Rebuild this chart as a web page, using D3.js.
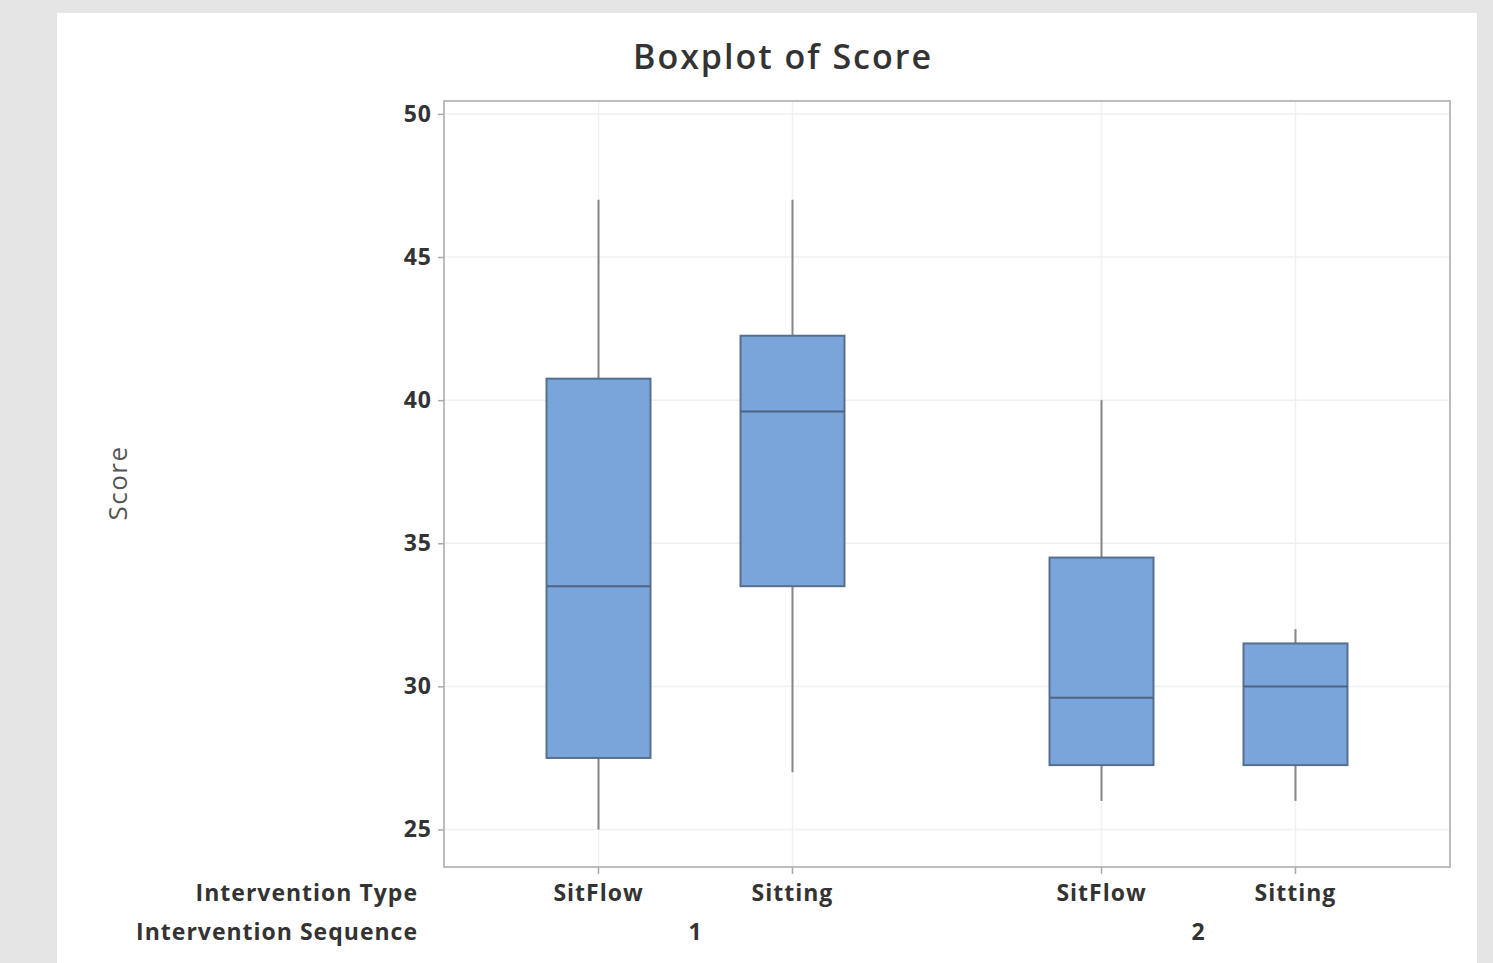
<!DOCTYPE html>
<html><head><meta charset="utf-8">
<script src="https://cdn.jsdelivr.net/npm/d3@7"></script>
<style>html,body{margin:0;padding:0;background:#e5e5e5;}svg{display:block;}</style>
</head><body>
<svg id="c" width="1493" height="963"></svg>
<script>
const sequences = ["1", "2"];
const types = ["SitFlow", "Sitting"];
const boxKeys = [["1","SitFlow"],["1","Sitting"],["2","SitFlow"],["2","Sitting"]];
const whiskerLow  = [25, 27, 26, 26];
const q1Values    = [27.5, 33.5, 27.25, 27.25];
const medians     = [33.5, 39.6, 29.6, 30];
const q3Values    = [40.75, 42.25, 34.5, 31.5];
const whiskerHigh = [47, 47, 40, 32];
const yTicks = [25, 30, 35, 40, 45, 50];

const svg = d3.select("#c");
svg.append("rect").attr("x",57).attr("y",13).attr("width",1420).attr("height",950).attr("fill","#fff");

const L=444, R=1450, T=101, B=867;
const y = d3.scaleLinear().domain([23.69, 50.45]).range([B, T]);
const xOuter = d3.scaleBand().domain(sequences).range([L, R]).paddingInner(0).paddingOuter(0);
const xInner = d3.scaleBand().domain(types).range([0, xOuter.bandwidth()]).paddingInner(0).paddingOuter(0.2965);
const cx = (s,t) => xOuter(s) + xInner(t) + xInner.bandwidth()/2;
const bw = xInner.step()*0.536;

const font = "'Open Sans', 'Noto Sans', sans-serif";
const lblSize = 23, lblWeight = 700, lblSpacing = 1, lblColor = "#333";
function lbl(sel){
  return sel.attr("font-family",font).attr("font-size",lblSize).attr("font-weight",lblWeight)
    .attr("letter-spacing",lblSpacing).attr("fill",lblColor);
}

// gridlines
const g = svg.append("g");
g.selectAll(".hg").data(yTicks).join("line")
  .attr("x1",L).attr("x2",R).attr("y1",d=>y(d)).attr("y2",d=>y(d))
  .attr("stroke","#f0f0f0").attr("stroke-width",1.5);
g.selectAll(".vg").data(boxKeys).join("line")
  .attr("x1",d=>cx(d[0],d[1])).attr("x2",d=>cx(d[0],d[1])).attr("y1",T).attr("y2",B)
  .attr("stroke","#f0f0f0").attr("stroke-width",1.5);

// frame
svg.append("rect").attr("x",L).attr("y",T).attr("width",R-L).attr("height",B-T)
  .attr("fill","none").attr("stroke","#bdbdbd").attr("stroke-width",2);

// y axis
const yAxis = svg.append("g").attr("transform",`translate(${L},0)`)
  .call(d3.axisLeft(y).tickValues(yTicks).tickSize(6).tickPadding(6));
yAxis.select(".domain").remove();
yAxis.selectAll("line").attr("stroke","#aaa").attr("stroke-width",1.5);
lbl(yAxis.selectAll("text"));

// x ticks
svg.selectAll(".xt").data(boxKeys).join("line")
  .attr("x1",d=>cx(d[0],d[1])).attr("x2",d=>cx(d[0],d[1])).attr("y1",B).attr("y2",B+7)
  .attr("stroke","#aaa").attr("stroke-width",1.5);

// boxes
const bx = svg.append("g");
boxKeys.forEach((k,i)=>{
  const c = cx(k[0],k[1]);
  bx.append("line").attr("x1",c).attr("x2",c).attr("y1",y(whiskerHigh[i])).attr("y2",y(q3Values[i]))
    .attr("stroke","#858585").attr("stroke-width",2);
  bx.append("line").attr("x1",c).attr("x2",c).attr("y1",y(q1Values[i])).attr("y2",y(whiskerLow[i]))
    .attr("stroke","#858585").attr("stroke-width",2);
  bx.append("rect").attr("x",c-bw/2).attr("width",bw)
    .attr("y",y(q3Values[i])).attr("height",y(q1Values[i])-y(q3Values[i]))
    .attr("fill","#7aa5da").attr("stroke","#566f8f").attr("stroke-width",2);
  bx.append("line").attr("x1",c-bw/2).attr("x2",c+bw/2).attr("y1",y(medians[i])).attr("y2",y(medians[i]))
    .attr("stroke","#4f6482").attr("stroke-width",2);
});

// category labels
lbl(svg.selectAll(".tl").data(boxKeys).join("text")
  .attr("x",d=>cx(d[0],d[1])).attr("y",901).attr("text-anchor","middle"))
  .text(d=>d[1]);
lbl(svg.selectAll(".sl").data(sequences).join("text")
  .attr("x",d=>xOuter(d)+xOuter.bandwidth()/2).attr("y",940).attr("text-anchor","middle"))
  .text(d=>d);
lbl(svg.append("text").attr("x",418).attr("y",901).attr("text-anchor","end"))
  .text("Intervention Type");
lbl(svg.append("text").attr("x",418).attr("y",940).attr("text-anchor","end"))
  .text("Intervention Sequence");

// title
svg.append("text").attr("x",783).attr("y",69).attr("text-anchor","middle")
  .attr("font-family",font).attr("font-size",34).attr("font-weight",600).attr("letter-spacing",2).attr("fill","#333")
  .text("Boxplot of Score");

// y label
svg.append("text").attr("transform","translate(127,483) rotate(-90)").attr("text-anchor","middle")
  .attr("font-family",font).attr("font-size",26).attr("font-weight",500).attr("letter-spacing",1.5).attr("fill","#555")
  .text("Score");
</script>
</body></html>
